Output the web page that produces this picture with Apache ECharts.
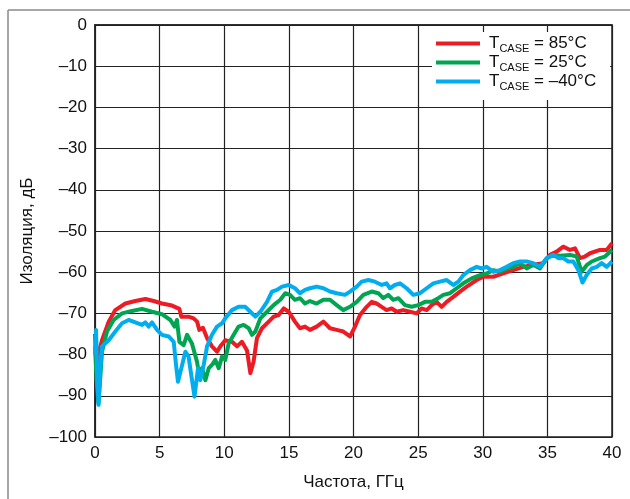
<!DOCTYPE html>
<html>
<head>
<meta charset="utf-8">
<script src="https://cdn.jsdelivr.net/npm/echarts@6/dist/echarts.min.js"></script>
<style>
  html, body { margin: 0; padding: 0; background: #fff; }
  #chart { width: 630px; height: 499px; }
</style>
</head>
<body>
<div id="chart"></div>
<script>
// Isolation vs frequency at three case temperatures: [GHz, dB]
const iso85 = [
  [0,-75],[0.1,-82],[0.25,-80],[0.54,-76.5],[1.06,-72],[1.57,-69.2],[2.35,-67.6],[3.12,-67],[3.9,-66.5],[4.54,-67],
  [5.18,-67.6],[5.96,-68.1],[6.53,-68.9],[6.68,-70.8],[7.24,-70.8],[7.63,-71.2],[7.9,-72],[8.07,-74],[8.35,-73.5],[8.67,-76],
  [9.05,-78],[9.44,-79.3],[9.7,-78],[10.08,-76.5],[10.6,-76.9],[10.99,-78],[11.37,-76.9],[11.76,-79],[12.02,-84.5],[12.27,-81.7],
  [12.53,-76],[12.92,-73.6],[13.44,-72],[13.82,-70.8],[14.21,-70.4],[14.6,-68.8],[14.99,-69.6],[15.47,-72],[15.86,-73.6],[16.25,-73.2],
  [16.63,-74],[17.15,-73.2],[17.67,-72],[18.18,-73.6],[18.7,-74],[19.21,-74.4],[19.73,-75.6],[20.12,-73.2],[20.5,-70.4],[21.02,-68.4],
  [21.41,-67.2],[21.79,-67.6],[22.18,-68.4],[22.56,-69.2],[22.95,-68.8],[23.34,-69.6],[23.85,-69.2],[24.37,-69.6],[24.89,-70],[25.27,-68.8],
  [25.66,-69.2],[26.05,-68],[26.43,-67.2],[26.82,-68.4],[27.21,-67.2],[27.72,-66],[28.24,-64.7],[28.76,-63.5],[29.53,-61.9],[30.05,-61.1],
  [30.82,-61.1],[31.59,-60.3],[32.36,-59.5],[33.14,-58.7],[33.91,-58.2],[34.68,-57.8],[35.2,-55.8],[35.72,-55],[36.23,-53.8],[36.75,-54.6],
  [37.14,-54.2],[37.52,-56.6],[37.91,-56.2],[38.3,-55.4],[39.07,-54.6],[39.59,-54.6],[40,-53]
];
const iso25 = [
  [0,-78],[0.12,-86],[0.26,-91.8],[0.4,-86],[0.54,-79.3],[0.93,-74.4],[1.44,-71.6],[2.09,-70],[2.86,-69.4],[3.64,-68.9],
  [4.41,-69.6],[5.18,-70.2],[5.83,-71.6],[6.16,-73.2],[6.34,-71.6],[6.53,-76.9],[6.86,-77.7],[7.12,-75.2],[7.5,-77.3],[7.89,-81.7],
  [8.02,-84.1],[8.28,-83.3],[8.54,-86.2],[8.8,-83.3],[9.05,-82.5],[9.31,-81.3],[9.57,-83.3],[9.83,-80.5],[10.08,-81.3],[10.34,-77.3],
  [10.73,-75.2],[11.11,-73.2],[11.5,-72.8],[11.89,-73.6],[12.15,-75.2],[12.41,-74.4],[12.79,-71.2],[13.31,-69.6],[13.82,-68],[14.34,-66.7],
  [14.72,-65.1],[15.09,-65.5],[15.47,-66.7],[15.86,-66.3],[16.25,-67.6],[16.63,-67],[17.15,-67.6],[17.67,-66.7],[18.18,-66.7],[18.7,-68],
  [19.21,-69.2],[19.73,-68.4],[20.25,-67.2],[20.76,-65.5],[21.41,-64.7],[21.92,-65.1],[22.3,-66.3],[22.69,-65.5],[23.08,-66.7],[23.47,-66.3],
  [23.98,-68],[24.5,-68.4],[25.01,-68],[25.53,-67.2],[26.05,-67.2],[26.56,-66.3],[26.95,-65.5],[27.47,-65.1],[27.98,-63.9],[28.5,-62.7],
  [29.14,-61.5],[29.79,-60.7],[30.3,-60.3],[30.82,-59.5],[31.33,-59.9],[31.85,-59.1],[32.36,-58.7],[32.88,-57.8],[33.4,-59.1],[33.91,-58.2],
  [34.43,-59.1],[34.95,-56.6],[35.46,-55.8],[35.98,-56],[36.75,-55.8],[37.27,-56.2],[37.65,-59.9],[38.04,-58.3],[38.43,-57.4],[39.07,-56.6],
  [39.46,-56.2],[40,-54.6]
];
const isoM40 = [
  [0,-80],[0.08,-74],[0.18,-86],[0.28,-92.2],[0.4,-84],[0.54,-78],[1.06,-76.5],[1.57,-74.4],[2.09,-72.4],[2.6,-71.6],
  [3.12,-72.2],[3.64,-72.8],[3.9,-72.2],[4.15,-73.2],[4.41,-72.2],[4.8,-74],[5.18,-75.2],[5.7,-75.6],[6.09,-76.9],[6.27,-82.5],
  [6.42,-86.6],[6.68,-83.3],[6.99,-79.3],[7.24,-80.5],[7.45,-85],[7.7,-90.2],[7.97,-83.3],[8.15,-86.2],[8.41,-82.5],[8.67,-78],
  [9.05,-75.2],[9.44,-73.2],[9.83,-72.4],[10.08,-71.2],[10.6,-69.2],[11.11,-68.4],[11.63,-68.4],[12.02,-69.6],[12.41,-70.8],[12.79,-69.6],
  [13.31,-67.2],[13.69,-64.7],[14.08,-64.3],[14.47,-63.5],[14.99,-63.1],[15.47,-63.9],[15.86,-65.1],[16.25,-64.3],[16.63,-63.9],[17.15,-63.5],
  [17.67,-63.9],[18.18,-64.7],[18.7,-65.1],[19.34,-65.5],[19.73,-64.7],[20.25,-63.5],[20.63,-62.3],[21.15,-61.9],[21.66,-62.3],[22.18,-63.1],
  [22.56,-62.7],[22.82,-63.9],[23.2,-63.1],[23.6,-62.7],[24.11,-63.9],[24.63,-65.5],[25.15,-65.1],[25.66,-63.9],[26.18,-62.7],[26.69,-62.3],
  [27.21,-61.9],[27.72,-63.1],[28.11,-62.3],[28.5,-60.7],[29.01,-59.5],[29.53,-58.7],[29.92,-59.1],[30.3,-58.7],[30.82,-59.9],[31.33,-59.5],
  [31.85,-58.7],[32.36,-57.8],[32.88,-57.4],[33.4,-57.4],[33.91,-57.8],[34.43,-58.7],[34.95,-56.6],[35.46,-55.8],[35.85,-56.6],[36.23,-56.6],
  [36.62,-57.4],[37.01,-57.4],[37.4,-59.5],[37.72,-62.5],[38.04,-60.7],[38.43,-59.1],[38.82,-58.7],[39.2,-57.8],[39.59,-58.7],[40,-57.4]
];

const seriesNames = ['85°C', '25°C', '–40°C'];
const seriesColors = ['#ED1C24', '#00A551', '#00AEEF'];
const seriesData = [iso85, iso25, isoM40];

const xTitle = 'Частота, ГГц';
const yTitle = 'Изоляция, дБ';

const FONT = '"Liberation Sans", Arial, sans-serif';
const chart = echarts.init(document.getElementById('chart'));

const dash = v => String(v).replace('-', '–');

chart.setOption({
  animation: false,
  backgroundColor: '#fff',
  textStyle: { fontFamily: FONT },
  grid: {
    left: 95, right: 18, top: 25, bottom: 62,
    show: true, borderColor: '#222', borderWidth: 1.5
  },
  xAxis: {
    type: 'value', min: 0, max: 40, interval: 5,
    name: xTitle, nameLocation: 'middle', nameGap: 37,
    nameTextStyle: { fontSize: 17, color: '#111', fontFamily: FONT },
    axisLine: { show: true, lineStyle: { color: '#222', width: 1.5 } },
    axisTick: { show: false },
    axisLabel: { fontSize: 17, color: '#111', margin: 8, fontFamily: FONT },
    splitLine: { show: true, lineStyle: { color: '#222', width: 1.2 } }
  },
  yAxis: {
    type: 'value', min: -100, max: 0, interval: 10,
    name: yTitle, nameLocation: 'middle', nameGap: 59, nameRotate: 90,
    nameTextStyle: { fontSize: 17, color: '#111', fontFamily: FONT },
    axisLine: { show: true, lineStyle: { color: '#222', width: 1.5 } },
    axisTick: { show: false },
    axisLabel: { fontSize: 17, color: '#111', margin: 8, fontFamily: FONT, formatter: dash },
    splitLine: { show: true, lineStyle: { color: '#222', width: 1.2 } }
  },
  legend: {
    orient: 'vertical', left: 432, top: 32,
    backgroundColor: '#fff', padding: [3, 14, 8, 4],
    itemWidth: 44, itemHeight: 4, itemGap: 0, icon: 'rect',
    data: seriesNames,
    formatter: name => '{t|T}{s|CASE}{t| = ' + name + '}',
    textStyle: {
      padding: [0, 0, 0, 4],
      rich: {
        t: { fontSize: 17, color: '#111', lineHeight: 21, fontFamily: FONT },
        s: { fontSize: 11, color: '#111', lineHeight: 21, verticalAlign: 'bottom', padding: [7, 0, 0, 0], fontFamily: FONT }
      }
    }
  },
  graphic: [
    { type: 'line', shape: { x1: 8, y1: 10, x2: 630, y2: 10 }, style: { stroke: '#8a8a8a', lineWidth: 1.5 } },
    { type: 'line', shape: { x1: 8, y1: 10, x2: 8, y2: 499 }, style: { stroke: '#8a8a8a', lineWidth: 1.5 } }
  ],
  series: seriesData.map((d, i) => ({
    name: seriesNames[i],
    type: 'line',
    data: d,
    showSymbol: false,
    symbol: 'none',
    color: seriesColors[i],
    lineStyle: { width: 4, color: seriesColors[i], join: 'round' },
    z: 2 + i
  }))
});
</script>
</body>
</html>
